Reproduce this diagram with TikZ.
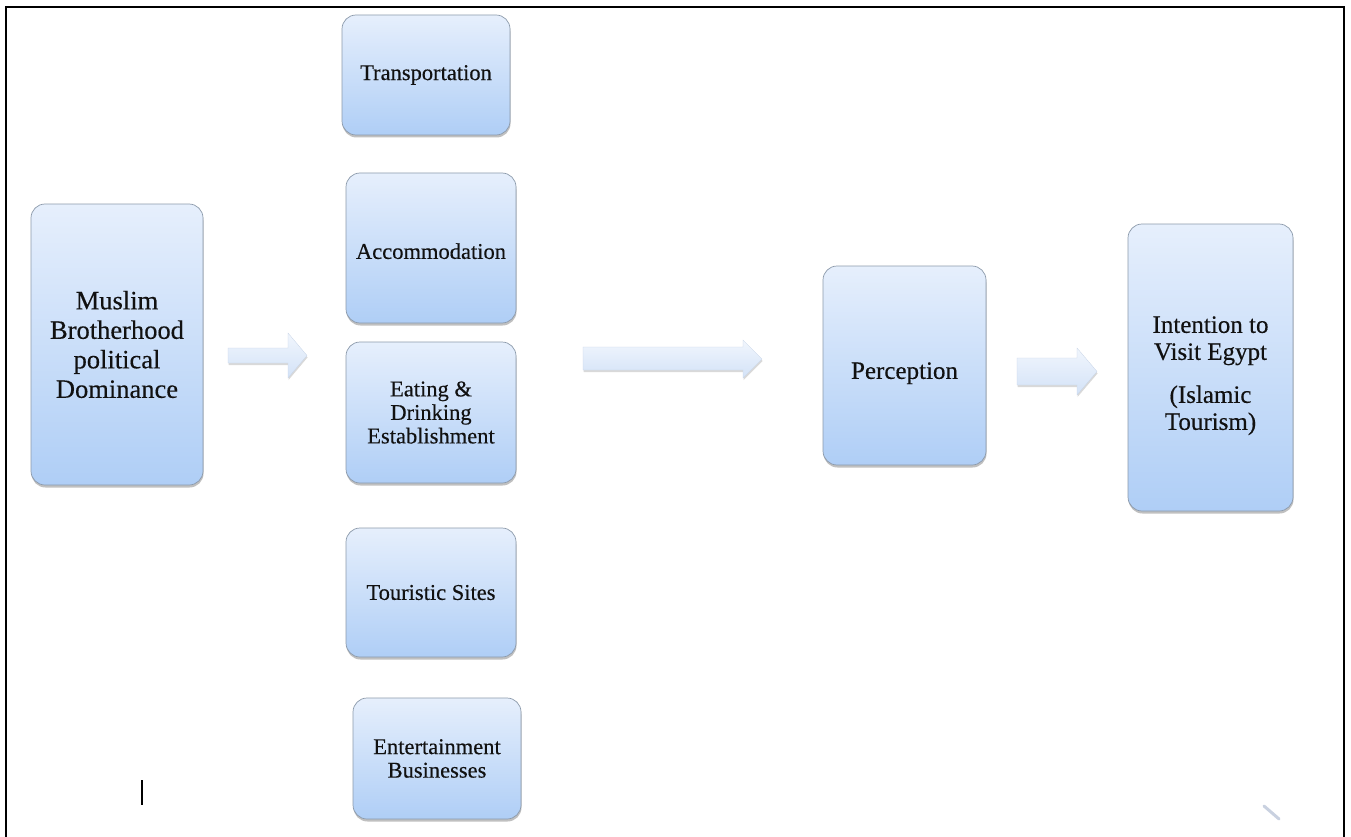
\documentclass[tikz,border=0pt]{standalone}
\usepackage{fontspec}
\setmainfont{Liberation Serif}
\newfontfamily\diagfont{Liberation Serif}[FakeBold=0.35]
\usetikzlibrary{shadows}
\definecolor{boxtop}{HTML}{E6EFFC}
\definecolor{boxbot}{HTML}{AFCEF6}
\definecolor{boxline}{HTML}{8C9AAB}
\definecolor{arrtop}{HTML}{F1F6FD}
\definecolor{arrbot}{HTML}{D3E2F7}
\definecolor{txt}{HTML}{111111}
\definecolor{faint}{HTML}{C9D1E0}
\begin{document}
\begin{tikzpicture}[x=1pt,y=-1pt,
  box/.style={rectangle, rounded corners=14pt, draw=boxline, line width=0.7pt,
    top color=boxtop, bottom color=boxbot,
    drop shadow={shadow xshift=0.5pt, shadow yshift=-2.5pt, opacity=0.45, fill=black!55},
    align=center, text=txt, inner sep=2pt},
  small/.style={font=\diagfont\fontsize{22.5}{23.5}\selectfont},
  mid/.style={font=\diagfont\fontsize{25}{27}\selectfont},
  big/.style={font=\diagfont\fontsize{26.5}{29.5}\selectfont},
  blockarrow/.style={top color=arrtop, bottom color=arrbot, draw=arrbot!85!gray, line width=0.3pt,
    drop shadow={shadow xshift=0.5pt, shadow yshift=-2pt, opacity=0.3, fill=black!50}},
  frame/.style={draw=black, line cap=rect}
]
\useasboundingbox (0,0) rectangle (1351,837);

% frame
\draw[frame, line width=1.3pt] (6,7) -- (1343.5,7);
\draw[frame, line width=2pt] (6,7) -- (6,837);
\draw[frame, line width=2pt] (1343.5,7) -- (1343.5,837);
\draw[frame, line width=2.7pt] (6,7) -- (24,7);
\draw[frame, line width=2.7pt] (1331,7) -- (1343.5,7);

% boxes
\node[box, big, minimum width=172pt, minimum height=281pt] (mb) at (117,344.5)
  {Muslim\\Brotherhood\\political\\Dominance};
\node[box, small, minimum width=168pt, minimum height=120pt] (trans) at (426,75) {Transportation};
\node[box, small, minimum width=170pt, minimum height=150pt] (accom) at (431,248) {\rule{0pt}{22pt}Accommodation};
\node[box, small, minimum width=170pt, minimum height=141pt] (eat) at (431,412.5)
  {Eating \&\\Drinking\\Establishment};
\node[box, small, minimum width=170pt, minimum height=129pt] (tour) at (431,592.5) {Touristic Sites};
\node[box, small, minimum width=168pt, minimum height=121pt] (ent) at (437,758.5)
  {Entertainment\\Businesses};
\node[box, mid, minimum width=163pt, minimum height=199pt] (perc) at (904.5,365.5) {\rule{0pt}{32pt}Perception};
\node[box, mid, minimum width=165pt, minimum height=287pt] (intent) at (1210.5,367.5)
  {\rule{0pt}{33pt}Intention to\\Visit Egypt\\[16pt](Islamic\\Tourism)};

% block arrows
\path[blockarrow] (228,348) -- (288,348) -- (288,333) -- (307,355.5) -- (288,378)
  -- (288,363) -- (228,363) -- cycle;
\path[blockarrow] (583,347) -- (743,347) -- (743,340) -- (762,359) -- (743,378)
  -- (743,370) -- (583,370) -- cycle;
\path[blockarrow] (1017,358) -- (1077,358) -- (1077,348) -- (1097,371.5) -- (1077,395)
  -- (1077,385) -- (1017,385) -- cycle;

% stray marks
\draw[black, line width=1.2pt] (142,780) -- (142,805);
\draw[faint, line width=3pt, line cap=round] (1264,806) -- (1279,819);
\end{tikzpicture}
\end{document}
